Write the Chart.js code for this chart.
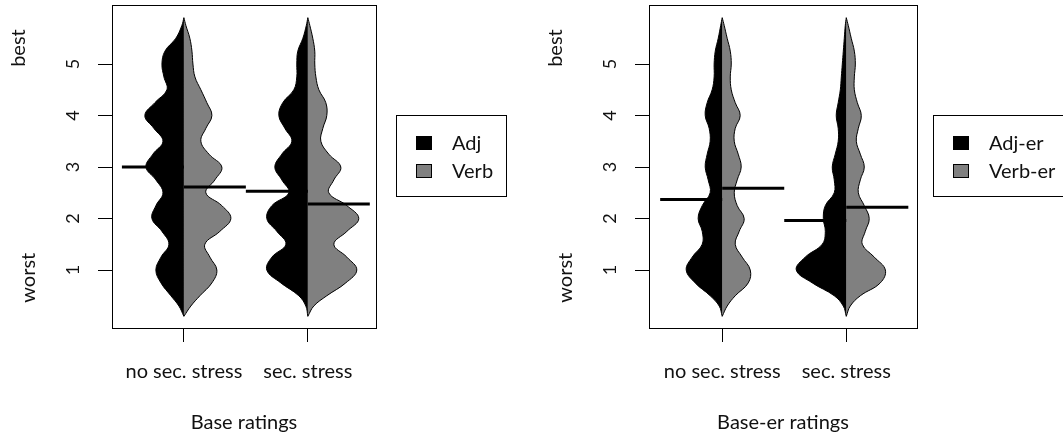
<!DOCTYPE html>
<html>
<head>
<meta charset="utf-8">
<script src="https://cdn.jsdelivr.net/npm/chart.js@4.4.1/dist/chart.umd.min.js"></script>
<style>
  body { margin: 0; background: #fff; }
  #wrap { position: relative; width: 1063px; height: 436px; overflow: hidden; }
  canvas { position: absolute; top: 0; }
</style>
</head>
<body>
<div id="wrap">
  <canvas id="baseChart" width="530" height="436" style="left:0"></canvas>
  <canvas id="erChart" width="533" height="436" style="left:530px"></canvas>
</div>
<script>
const ratingLevels = [0.1, 0.3, 0.5, 0.75, 1, 1.25, 1.5, 1.75, 2, 2.25, 2.5, 2.75, 3, 3.25, 3.5, 3.75, 4, 4.25, 4.5, 4.75, 5, 5.25, 5.5, 5.75, 5.9];

const categories = ['no sec. stress', 'sec. stress'];
const categoryTicks = [1, 2];
const ratingTicks = [1, 2, 3, 4, 5];

// half widths of the violins (x units), base ratings
const adjNoStress  = [0, .040, .105, .185, .226, .185, .121, .177, .258, .226, .169, .226, .306, .250, .169, .242, .315, .234, .137, .161, .177, .153, .065, .016, 0];
const verbNoStress = [0, .056, .129, .226, .266, .210, .169, .290, .379, .306, .177, .250, .306, .202, .137, .177, .226, .185, .137, .089, .073, .065, .048, .016, 0];
const adjStress    = [0, .016, .073, .218, .331, .290, .177, .250, .331, .290, .153, .210, .266, .210, .129, .185, .234, .202, .113, .089, .089, .081, .040, .012, 0];
const verbStress   = [0, .048, .153, .306, .395, .315, .210, .315, .411, .315, .169, .210, .266, .169, .105, .121, .153, .145, .089, .065, .056, .056, .040, .016, 0];

// base-er ratings
const adjErNoStress  = [0, .024, .097, .218, .290, .242, .161, .161, .194, .161, .097, .113, .137, .121, .097, .105, .137, .121, .081, .065, .065, .056, .032, .012, 0];
const verbErNoStress = [0, .040, .105, .210, .226, .161, .105, .137, .177, .121, .097, .121, .153, .129, .097, .105, .145, .105, .073, .065, .073, .065, .040, .016, 0];
const adjErStress    = [0, .024, .097, .274, .403, .331, .194, .169, .185, .169, .097, .097, .113, .089, .065, .065, .081, .065, .048, .040, .032, .024, .016, .008, 0];
const verbErStress   = [0, .032, .113, .274, .315, .226, .129, .153, .185, .145, .097, .113, .145, .113, .081, .097, .121, .089, .065, .065, .073, .065, .040, .016, 0];

// mean ratings per category
const adjMeans    = [3.0, 2.53];
const verbMeans   = [2.61, 2.28];
const adjErMeans  = [2.37, 1.96];
const verbErMeans = [2.59, 2.22];

const FONT = 'Lato, "Noto Sans", sans-serif';

function halfViolin(label, center, widths, side, color) {
    return {
        type: 'line',
        label: label,
        data: ratingLevels.map((y, i) => ({ x: center + side * widths[i], y: y })),
        fill: 'shape',
        backgroundColor: color,
        borderColor: '#000',
        borderWidth: 1,
        pointRadius: 0,
        tension: 0.4,
        order: 1
    };
}

function meanLine(center, mean, side) {
    return {
        type: 'line',
        data: [{ x: center, y: mean }, { x: center + side * 0.5, y: mean }],
        borderColor: '#000',
        borderWidth: 3,
        fill: false,
        pointRadius: 0,
        tension: 0,
        order: 0
    };
}

const panelDecor = {
    id: 'panelDecor',
    afterDraw(chart, args, opts) {
        const ctx = chart.ctx;
        const a = chart.chartArea;
        const y = chart.scales.y;
        ctx.save();
        ctx.strokeStyle = '#000';
        ctx.lineWidth = 1;
        ctx.strokeRect(Math.round(a.left) + 0.5, Math.round(a.top) + 0.5, Math.round(a.right - a.left), Math.round(a.bottom - a.top));

        // best / worst
        ctx.fillStyle = '#111';
        ctx.font = '20px ' + FONT;
        ctx.textAlign = 'center';
        ctx.textBaseline = 'alphabetic';
        [['best', opts.bestAt, opts.bestX], ['worst', opts.worstAt, opts.worstX]].forEach(([txt, v, dx]) => {
            ctx.save();
            ctx.translate(a.left - dx, y.getPixelForValue(v));
            ctx.rotate(-Math.PI / 2);
            ctx.fillText(txt, 0, 0);
            ctx.restore();
        });

        // legend box
        const bx = a.right + opts.legendGap;
        const by = 115;
        ctx.strokeRect(Math.round(bx) + 0.5, by + 0.5, opts.legendWidth, 81);
        ctx.textAlign = 'left';
        ctx.textBaseline = 'middle';
        opts.items.forEach((item, i) => {
            const cy = 143 + i * 28;
            ctx.fillStyle = item.color;
            ctx.fillRect(Math.round(bx) + 20, cy - 7, 16, 14);
            ctx.strokeRect(Math.round(bx) + 20.5, cy - 6.5, 15, 13);
            ctx.fillStyle = '#111';
            ctx.fillText(item.text, bx + 56, cy + 1);
        });
        ctx.restore();
    }
};

function makePanel(canvasId, title, left, right, xmin, xmax, violins, means, legendOpts) {
    const datasets = [
        halfViolin(legendOpts.items[0].text, 1, violins[0], -1, '#000'),
        halfViolin(legendOpts.items[1].text, 1, violins[1], 1, '#808080'),
        halfViolin(legendOpts.items[0].text, 2, violins[2], -1, '#000'),
        halfViolin(legendOpts.items[1].text, 2, violins[3], 1, '#808080'),
        meanLine(1, means[0][0], -1),
        meanLine(1, means[1][0], 1),
        meanLine(2, means[0][1], -1),
        meanLine(2, means[1][1], 1)
    ];
    const canvas = document.getElementById(canvasId);
    return new Chart(canvas.getContext('2d'), {
        type: 'line',
        data: { datasets: datasets },
        options: {
            responsive: false,
            animation: false,
            layout: { padding: { left: 0, top: 5, right: canvas.width - right, bottom: 0 } },
            plugins: {
                legend: { display: false },
                tooltip: { enabled: false },
                panelDecor: legendOpts
            },
            scales: {
                x: {
                    type: 'linear',
                    min: xmin,
                    max: xmax,
                    afterBuildTicks: s => { s.ticks = categoryTicks.map(v => ({ value: v })); },
                    afterFit: s => { s.height = 108; s.paddingLeft = 0; s.paddingRight = 0; },
                    ticks: {
                        autoSkip: false,
                        maxRotation: 0,
                        padding: 18,
                        color: '#111',
                        font: { family: FONT, size: 20 },
                        callback: (v, i) => categories[i]
                    },
                    grid: { drawOnChartArea: false, drawTicks: true, tickLength: 14, color: '#000', lineWidth: 1 },
                    border: { display: false },
                    title: {
                        display: true,
                        text: title,
                        color: '#111',
                        font: { family: FONT, size: 20 },
                        padding: { top: 0, bottom: 1 }
                    }
                },
                y: {
                    type: 'linear',
                    min: -0.126,
                    max: 6.146,
                    afterBuildTicks: s => { s.ticks = ratingTicks.map(v => ({ value: v })); },
                    afterFit: s => { s.width = left; s.paddingTop = 0; s.paddingBottom = 0; },
                    ticks: {
                        autoSkip: false,
                        minRotation: 90,
                        maxRotation: 90,
                        crossAlign: 'center',
                        padding: 20,
                        color: '#111',
                        font: { family: FONT, size: 18 },
                        callback: v => String(v)
                    },
                    grid: { drawOnChartArea: false, drawTicks: true, tickLength: 14, color: '#000', lineWidth: 1 },
                    border: { display: false }
                }
            }
        },
        plugins: [panelDecor]
    });
}

makePanel('baseChart', 'Base ratings', 112, 376, 0.42, 2.55,
    [adjNoStress, verbNoStress, adjStress, verbStress],
    [adjMeans, verbMeans],
    { bestAt: 5.31, bestX: 87, worstAt: 0.85, worstX: 77, legendGap: 20, legendWidth: 110,
      items: [{ text: 'Adj', color: '#000' }, { text: 'Verb', color: '#808080' }] });

makePanel('erChart', 'Base-er ratings', 119, 387, 0.41, 2.57,
    [adjErNoStress, verbErNoStress, adjErStress, verbErStress],
    [adjErMeans, verbErMeans],
    { bestAt: 5.31, bestX: 87, worstAt: 0.85, worstX: 77, legendGap: 16, legendWidth: 160,
      items: [{ text: 'Adj-er', color: '#000' }, { text: 'Verb-er', color: '#808080' }] });
</script>
</body>
</html>
